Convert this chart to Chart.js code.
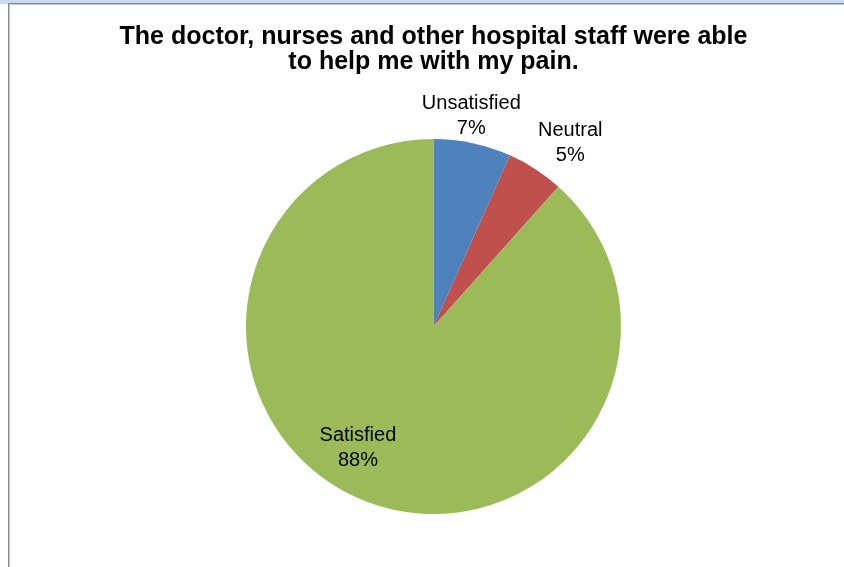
<!DOCTYPE html>
<html>
<head>
<meta charset="utf-8">
<script src="https://cdn.jsdelivr.net/npm/chart.js@4/dist/chart.umd.min.js"></script>
<style>
  html, body { margin: 0; padding: 0; background: #ffffff; }
  #page { position: relative; width: 844px; height: 567px; overflow: hidden; background: #ffffff; }
  #strip { position: absolute; left: 0; top: 0; width: 844px; height: 4px; background: #c9daf1; }
  #frame { position: absolute; left: 8px; top: 3px; width: 900px; height: 700px;
           border-top: 1px solid #8a8a8a; border-left: 1px solid #8a8a8a;
           box-shadow: inset 1px 1px 0 #c4c4c4; background: #ffffff; }
  #c { position: absolute; left: 0; top: 0; }
</style>
</head>
<body>
<div id="page">
  <div id="strip"></div>
  <div id="frame"></div>
  <canvas id="c" width="844" height="567"></canvas>
</div>
<script>
// ---- data ----
const titleLines = ["The doctor, nurses and other hospital staff were able", "to help me with my pain."];
const categories = ["Unsatisfied", "Neutral", "Satisfied"];
const values = [6.7, 4.9, 88.4];
const percentLabels = ["7%", "5%", "88%"];
const sliceColors = ["#4f81bd", "#c0504d", "#9bbb59"];

// label placement (style): radius factor relative to outer radius, angle shift in degrees from slice middle
const labelPlacement = [
  { radius: 1.143, shift: -1.9 },
  { radius: 1.222, shift: 3.7 },
  { radius: 0.765, shift: 10.9 }
];

const labelPlugin = {
  id: 'sliceLabels',
  afterDatasetsDraw(chart) {
    const ctx = chart.ctx;
    const meta = chart.getDatasetMeta(0);
    ctx.save();
    ctx.font = '20px "Liberation Sans", Arial, sans-serif';
    ctx.fillStyle = '#000000';
    ctx.textAlign = 'center';
    ctx.textBaseline = 'middle';
    const lh = 25;
    meta.data.forEach((arc, i) => {
      const p = arc.getProps(['x', 'y', 'startAngle', 'endAngle', 'outerRadius'], true);
      const mid = (p.startAngle + p.endAngle) / 2 + labelPlacement[i].shift * Math.PI / 180;
      const r = p.outerRadius * labelPlacement[i].radius;
      const cx = p.x + r * Math.cos(mid);
      const cy = p.y + r * Math.sin(mid);
      ctx.fillText(categories[i], cx, cy - lh / 2);
      ctx.fillText(percentLabels[i], cx, cy + lh / 2);
    });
    ctx.restore();
  }
};

new Chart(document.getElementById('c'), {
  type: 'pie',
  data: {
    labels: categories,
    datasets: [{
      data: values,
      backgroundColor: sliceColors,
      borderWidth: 0,
      hoverOffset: 0
    }]
  },
  options: {
    responsive: false,
    devicePixelRatio: 1,
    animation: false,
    layout: { padding: { top: 25, left: 23, right: 0, bottom: 53 } },
    plugins: {
      legend: { display: false },
      tooltip: { enabled: false },
      title: {
        display: true,
        text: titleLines,
        color: '#000000',
        font: { family: '"Liberation Sans", Arial, sans-serif', size: 25, weight: 'bold', lineHeight: '24.5px' },
        padding: { top: 0, bottom: 65 }
      }
    }
  },
  plugins: [labelPlugin]
});
</script>
</body>
</html>
